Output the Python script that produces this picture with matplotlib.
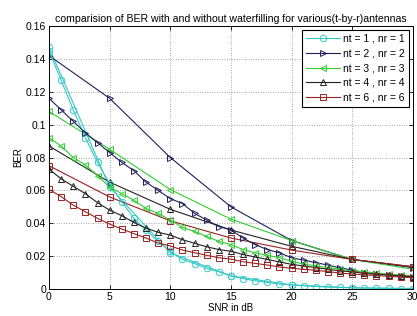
import numpy as np
import matplotlib
matplotlib.use("Agg")
import matplotlib.pyplot as plt

plt.rcParams['font.family'] = ['Liberation Sans', 'DejaVu Sans']

snr_coarse = [0, 5, 10, 15, 20, 25, 30]
snr_fine = list(range(31))

labels = ["nt = 1 , nr = 1", "nt = 2 , nr = 2", "nt = 3 , nr = 3",
          "nt = 4 , nr = 4", "nt = 6 , nr = 6"]
colors = ['#33c8c8', '#20205a', '#33cc33', '#222222', '#992222']
markers = ['o', '>', '<', '^', 's']

ber_coarse_1 = [0.147, 0.062, 0.022, 0.008, 0.0025, 0.0007, 0.0003]
ber_coarse_2 = [0.142, 0.116, 0.080, 0.050, 0.0295, 0.018, 0.013]
ber_coarse_3 = [0.108, 0.085, 0.0605, 0.0425, 0.0295, 0.018, 0.012]
ber_coarse_4 = [0.087, 0.065, 0.0485, 0.0359, 0.026, 0.018, 0.0135]
ber_coarse_6 = [0.075, 0.056, 0.0415, 0.031, 0.0237, 0.018, 0.0136]

ber_fine_1 = [0.145, 0.127, 0.109, 0.092, 0.077, 0.064, 0.053, 0.043, 0.036, 0.029,
              0.023, 0.018, 0.0155, 0.0125, 0.0105, 0.008, 0.0063, 0.005, 0.004, 0.003,
              0.0025, 0.002, 0.0015, 0.0012, 0.001, 0.0008, 0.0006, 0.0005, 0.0004,
              0.0003, 0.0003]
ber_fine_2 = [0.116, 0.109, 0.102, 0.095, 0.089, 0.083, 0.077, 0.072, 0.065, 0.060,
              0.055, 0.052, 0.046, 0.042, 0.038, 0.036, 0.031, 0.027, 0.024, 0.022,
              0.019, 0.0176, 0.016, 0.0146, 0.0128, 0.0116, 0.010, 0.0093, 0.0087,
              0.0078, 0.0072]
ber_fine_3 = [0.092, 0.087, 0.080, 0.0755, 0.069, 0.062, 0.058, 0.054, 0.049, 0.046,
              0.042, 0.0375, 0.035, 0.032, 0.029, 0.027, 0.024, 0.022, 0.0205, 0.019,
              0.017, 0.0152, 0.014, 0.013, 0.012, 0.011, 0.0105, 0.0098, 0.009,
              0.0085, 0.008]
ber_fine_4 = [0.073, 0.067, 0.0625, 0.058, 0.0525, 0.048, 0.0446, 0.0405, 0.037, 0.0345,
              0.0328, 0.030, 0.0278, 0.0257, 0.024, 0.023, 0.021, 0.0195, 0.018, 0.0165,
              0.015, 0.014, 0.013, 0.012, 0.011, 0.0105, 0.0095, 0.009, 0.0085,
              0.008, 0.0075]
ber_fine_6 = [0.0606, 0.0562, 0.051, 0.047, 0.043, 0.0395, 0.0365, 0.0337, 0.031, 0.028,
              0.0262, 0.0237, 0.0221, 0.0205, 0.019, 0.0182, 0.0166, 0.0156, 0.0146,
              0.0134, 0.0126, 0.012, 0.0114, 0.0106, 0.0097, 0.0091, 0.0086, 0.0082,
              0.0077, 0.0073, 0.0069]

coarse = [ber_coarse_1, ber_coarse_2, ber_coarse_3, ber_coarse_4, ber_coarse_6]
fine = [ber_fine_1, ber_fine_2, ber_fine_3, ber_fine_4, ber_fine_6]

xticks = [0, 5, 10, 15, 20, 25, 30]
yticks = [0, 0.02, 0.04, 0.06, 0.08, 0.10, 0.12, 0.14, 0.16]
yticklabels = ["0", "0.02", "0.04", "0.06", "0.08", "0.1", "0.12", "0.14", "0.16"]

fig = plt.figure(figsize=(4.17, 3.16), dpi=100)
ax = fig.add_axes([0.1175, 0.0854, 0.8725, 0.8323])

handles = []
for c, col, m, lab in zip(coarse, colors, markers, labels):
    h, = ax.plot(snr_coarse, c, color=col, marker=m, markersize=4.6,
                 markerfacecolor='none', markeredgewidth=0.7, linewidth=0.8, label=lab)
    handles.append(h)
for f, col, m in zip(fine, colors, markers):
    ax.plot(snr_fine, f, color=col, marker=m, markersize=4.6,
            markerfacecolor='none', markeredgewidth=0.7, linewidth=0.8)

ax.set_xlim(0, 30)
ax.set_ylim(0, 0.16)
ax.set_xticks(xticks)
ax.set_yticks(yticks)
ax.set_yticklabels(yticklabels)
ax.tick_params(direction='in', length=3, width=0.6, labelsize=7.5, pad=2,
               top=True, right=True)
ax.grid(True, color='#555555', linestyle=(0, (1, 2.5)), linewidth=0.5)
for s in ax.spines.values():
    s.set_linewidth(0.7)

ax.set_title("comparision of BER with and without waterfilling for various(t-by-r)antennas",
             fontsize=7.6, pad=3)
ax.set_xlabel("SNR in dB", fontsize=7, labelpad=1)
ax.set_ylabel("BER", fontsize=7, labelpad=2)

leg = ax.legend(handles=handles, loc='upper right', fontsize=7.5, handlelength=3.3,
                fancybox=False, framealpha=1, edgecolor='black', borderpad=0.4,
                labelspacing=0.45, handletextpad=0.3, borderaxespad=0.35)
leg.get_frame().set_linewidth(0.8)

fig.savefig("out.png", dpi=100)
